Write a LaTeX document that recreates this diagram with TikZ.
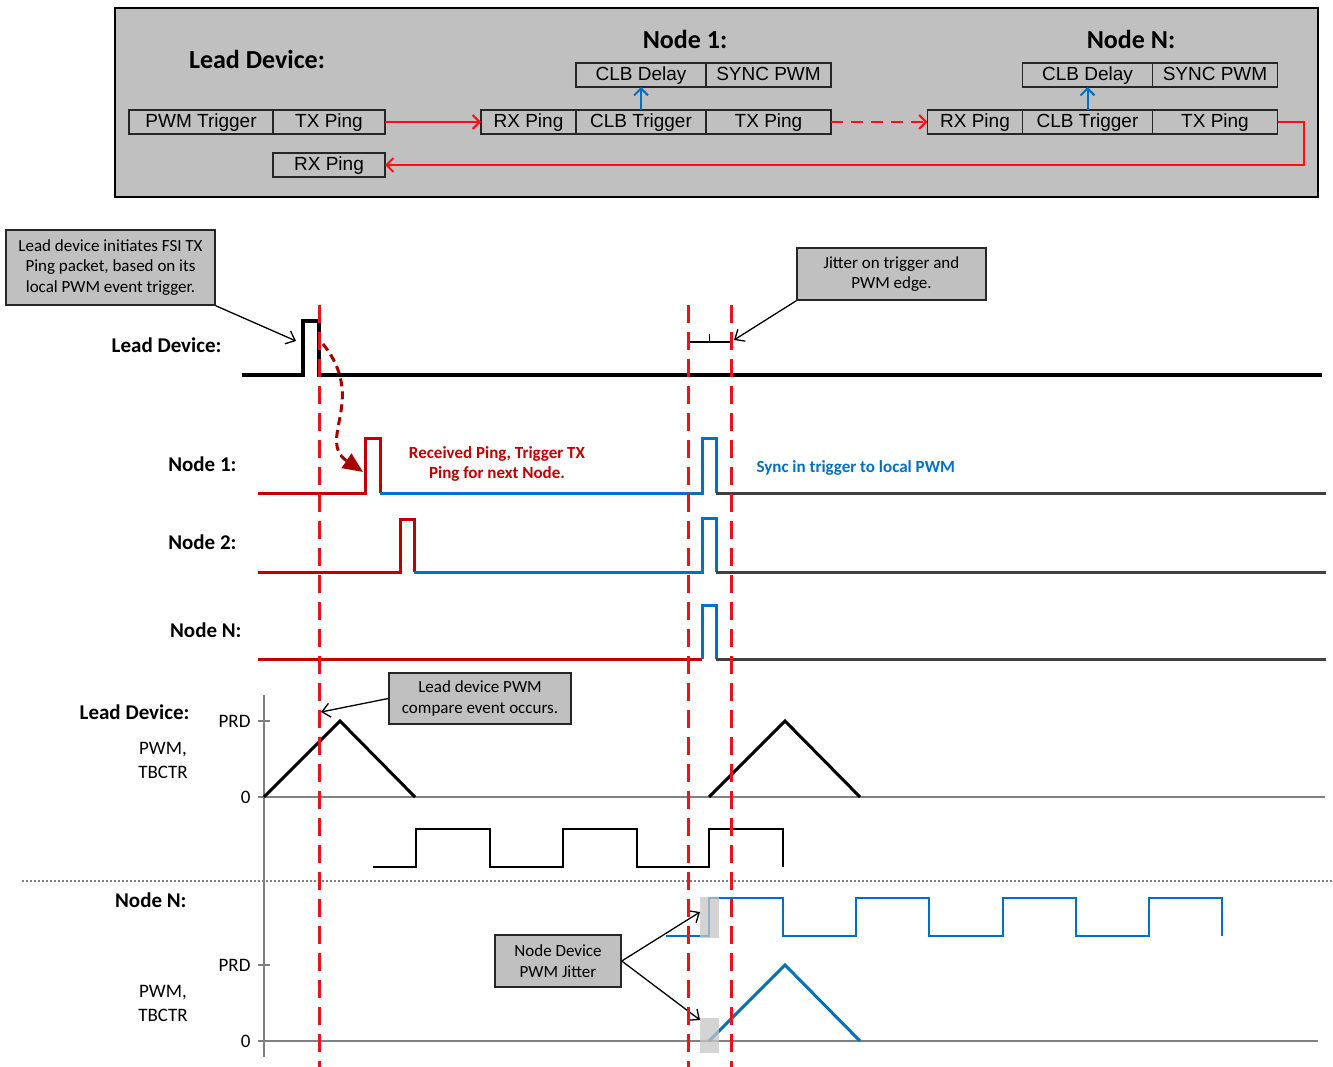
\documentclass[tikz,border=0pt]{standalone}
\usepackage{fontspec}
\setmainfont{Carlito}
\newfontfamily\arialfont{Liberation Sans}
\usepackage{xcolor}
\usepackage{tikz}
\usetikzlibrary{arrows.meta,positioning}

\definecolor{panelgray}{HTML}{C0C0C0}
\definecolor{pingred}{HTML}{FF1010}
\definecolor{sigred}{HTML}{C00000}
\definecolor{sigblue}{HTML}{0070C0}
\definecolor{sigdark}{HTML}{404040}
\definecolor{markred}{HTML}{E8141B}
\definecolor{curvered}{HTML}{A50000}
\definecolor{axisgray}{HTML}{808080}

\begin{document}
\begin{tikzpicture}[x=1pt, y=-1pt,
  blk/.style={rectangle, draw=black!85, line width=1.5pt, minimum width=#1,
    minimum height=24pt, inner sep=0pt, outer sep=0pt, text height=14pt, text depth=3pt,
    font=\arialfont\fontsize{19}{22}\selectfont},
  title/.style={font=\bfseries\fontsize{26}{30}\selectfont},
  wlabel/.style={anchor=east, font=\bfseries\fontsize{21}{24}\selectfont},
  axlabel/.style={align=center, font=\fontsize{19}{24}\selectfont},
  callout/.style={rectangle, draw=black!85, fill=panelgray, line width=1.5pt,
    inner sep=0pt, align=center, font=\fontsize{17}{20.5}\selectfont},
  note/.style={align=center, font=\bfseries\fontsize{17}{20}\selectfont},
  ping/.style={-{Straight Barb[length=7pt,width=14pt]}, draw=pingred, line width=2pt},
  ptr/.style={-{Straight Barb[length=8pt,width=14pt]}, line width=1.3pt},
  wave/.style={line width=3pt},
  marker/.style={markred, line width=3pt, dash pattern=on 18pt off 9pt},
  axis/.style={axisgray, line width=1.8pt}
]
\useasboundingbox (0,0) rectangle (1333,1067);

% --- block chain panel ---
\draw[line width=1.5pt, fill=panelgray] (115,8) rectangle (1318,197);
\node[title] (leadtitle) at (257,59) {Lead Device:};
\node[blk=144pt] (ldpwm) at (201,122) {PWM Trigger};
\node[blk=112pt, right=0pt of ldpwm] (ldtx) {TX Ping};
\node[blk=112pt, below=19pt of ldtx] (ldrx) {RX Ping};

\node[title] (n1title) at (685,39) {Node 1:};
\node[blk=95pt] (n1rx) at (528.5,122) {RX Ping};
\node[blk=130pt, right=0pt of n1rx] (n1trig) {CLB Trigger};
\node[blk=125pt, right=0pt of n1trig] (n1tx) {TX Ping};
\node[blk=130pt, above=23pt of n1trig] (n1delay) {CLB Delay};
\node[blk=125pt, right=0pt of n1delay] (n1sync) {SYNC PWM};

\node[title] (nNtitle) at (1131,39) {Node N:};
\node[blk=95pt] (nNrx) at (975,122) {RX Ping};
\node[blk=130pt, right=0pt of nNrx] (nNtrig) {CLB Trigger};
\node[blk=125pt, right=0pt of nNtrig] (nNtx) {TX Ping};
\node[blk=130pt, above=23pt of nNtrig] (nNdelay) {CLB Delay};
\node[blk=125pt, right=0pt of nNdelay] (nNsync) {SYNC PWM};

\draw[ping] (ldtx) -- (n1rx);
\draw[ping, dash pattern=on 12pt off 8pt] (n1tx) -- (nNrx);
\draw[ping] (nNtx.east) -- ++(26,0) |- (ldrx.east);
\draw[ping, draw=sigblue] (n1trig) -- (n1delay);
\draw[ping, draw=sigblue] (nNtrig) -- (nNdelay);

% --- ping timing ---
\node[wlabel] (leadlbl) at (225,345) {Lead Device:};
\draw[wave, line width=4pt] (242,375) -| (303,321) -| (319,375) -- (1322,375);

\node[wlabel] (n1lbl) at (240,464) {Node 1:};
\draw[wave, sigred] (258,493) -| (365,438) -| (380,493);
\draw[wave, sigblue] (380,493) -| (702,438) -| (716,493);
\node[wlabel] (n2lbl) at (240,542) {Node 2:};
\draw[wave, sigred] (258,572) -| (400,519) -| (414,572);
\draw[wave, sigblue] (414,572) -| (702,518) -| (716,572);
\node[wlabel] (nNlbl) at (245,630) {Node N:};
\draw[wave, sigred] (258,659) -- (702,659);
\draw[wave, sigblue] (702,659) |- (716,605) -- (716,659);
\foreach \y in {493,572,659}
  \draw[wave, sigdark] (716,\y) -- (1326,\y);

\node[note, text=sigred] (rxnote) at (497,464) {Received Ping, Trigger TX\\Ping for next Node.};
\node[note, text=sigblue, anchor=west] (syncnote) at (753,468) {Sync in trigger to local PWM};

\draw[curvered, line width=3pt, dash pattern=on 8pt off 5pt,
  -{Triangle[length=20pt,width=17pt]}] (323,344) .. controls (368,400) and (316,440) .. (363,472);

\node[callout, minimum width=209pt, minimum height=75pt] (fsinote) at (110.5,267.5)
  {Lead device initiates FSI TX\\Ping packet, based on its\\local PWM event trigger.};
\coordinate (leadpulse) at (296,341);
\draw[ptr] (fsinote.south east) -- (leadpulse);

\node[callout, minimum width=189pt, minimum height=52pt] (jitnote) at (891.5,274)
  {Jitter on trigger and\\PWM edge.};
\coordinate (jitend) at (734,340);
\draw[ptr] (jitnote.south west) -- (jitend);
\draw[line width=1.5pt] (688,349) |- (731,342) -- (731,349);
\draw[line width=1.5pt] (709.5,342) -- (709.5,334);

% --- PWM counters ---
\draw[axis] (264,695) -- (264,1057);
\draw[axis] (264,797) -- (1325,797);
\draw[axis] (264,1041) -- (1318,1041);
\foreach \y in {721,797,965,1041}
  \draw[axis] (258,\y) -- (270,\y);
\draw[axisgray, line width=1.2pt, dash pattern=on 2pt off 2pt] (22,881) -- (1333,881);

\node[wlabel] (leadpwmlbl) at (193,712) {Lead Device:};
\node[axlabel] (leadtb) at (163,760) {PWM,\\TBCTR};
\node[axlabel, anchor=east] (leadprd) at (254,721) {PRD};
\node[axlabel, anchor=east] (leadzero) at (254,797) {0};
\node[wlabel] (nNpwmlbl) at (190,900) {Node N:};
\node[axlabel] (nNtb) at (163,1003) {PWM,\\TBCTR};
\node[axlabel, anchor=east] (nNprd) at (254,965) {PRD};
\node[axlabel, anchor=east] (nNzero) at (254,1041) {0};

\draw[wave] (264,797) -- (340,721) -- (415,797);
\draw[wave] (709,797) -- (785,721) -- (860,797);
\draw[line width=2.5pt] (373,867) -| (416,829) -| (490,867) -| (563,829) -| (637,867) -| (709,829) -| (783,867);

\draw[sigblue, line width=2.5pt] (666,936) -| (709,898) -| (783,936) -| (856,898) -| (929,936)
  -| (1003,898) -| (1076,936) -| (1149,898) -| (1222,936);
\draw[wave, sigblue] (709,1041) -- (785,965) -- (860,1041);
\fill[gray!45, opacity=0.75] (700,897) rectangle (719,938);
\fill[gray!45, opacity=0.75] (700,1018) rectangle (719,1053);

\node[callout, minimum width=182pt, minimum height=51pt] (cmpnote) at (480,698.5)
  {Lead device PWM\\compare event occurs.};
\coordinate (cmpend) at (321,712);
\draw[ptr] (cmpnote.west) -- (cmpend);

\node[callout, minimum width=126pt, minimum height=52pt] (jitpwm) at (558,961)
  {Node Device\\PWM Jitter};
\coordinate (edgejit) at (700,912);
\coordinate (rampjit) at (700,1020);
\draw[ptr] (jitpwm.east) -- (edgejit);
\draw[ptr] (jitpwm.east) -- (rampjit);

% sync markers
\foreach \x in {319,688,731}
  \draw[marker] (\x,305) -- (\x,1067);
\end{tikzpicture}
\end{document}
